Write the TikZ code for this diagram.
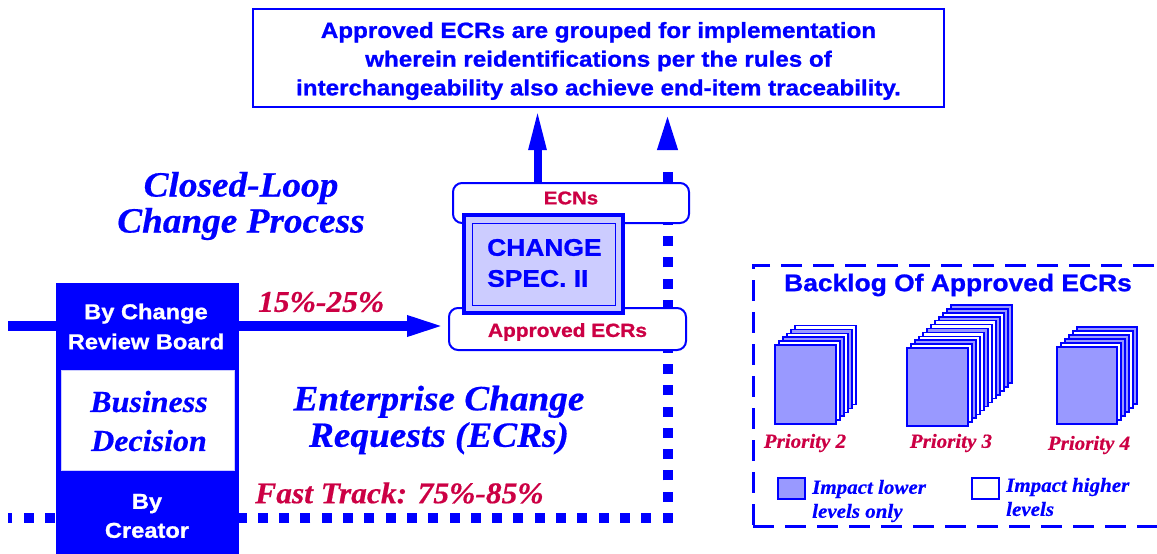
\documentclass[tikz,border=0pt]{standalone}
\usepackage{fontspec}
\setmainfont{Liberation Serif}
\newfontfamily\hvfam[FakeStretch=1.1, BoldFeatures={FakeBold=1}]{Liberation Sans}
\newfontfamily\tmfam[FakeStretch=1.05, BoldItalicFeatures={FakeBold=0.5}]{Liberation Serif}
\usetikzlibrary{arrows.meta,calc}
\definecolor{myblue}{RGB}{0,0,255}
\definecolor{crim}{RGB}{204,0,68}
\definecolor{lav}{RGB}{204,204,255}
\definecolor{pagefill}{RGB}{153,153,255}
\newcommand\sfb[2]{\hvfam\bfseries\fontsize{#1}{#2}\selectfont}
\newcommand\rmbi[2]{\tmfam\bfseries\itshape\fontsize{#1}{#2}\selectfont}
\tikzset{
  txt/.style={inner sep=0pt, align=center},
  rbox/.style={draw=myblue, line width=2pt, fill=white, rounded corners=9pt, inner sep=0pt},
  page/.style={draw=myblue, line width=1.5pt},
  bigarrow/.style={myblue, line width=#1},
  dots/.style={myblue, line width=10pt, line cap=butt, dash pattern=on 10pt off 11.3pt},
}
\begin{document}
\begin{tikzpicture}[x=1pt,y=-1pt]
\clip (0,0) rectangle (1157,554);
\fill[white] (0,0) rectangle (1157,554);

% top box
\node[draw=myblue, line width=2pt, minimum width=691pt, minimum height=98pt, inner sep=0pt] (top) at (598.5,58) {};
\node[txt, text=myblue, font=\sfb{22}{28.7}] (toptxt) at (598.5,61)
  {Approved ECRs are grouped for implementation\\wherein reidentifications per the rules of\\interchangeability also achieve end-item traceability.};

% dotted fast track path
\coordinate (corner) at (667.5,518);
\coordinate (hstart) at (672.5,518);
\coordinate (vstart) at (667.5,523);
\coordinate (leftend) at (8,518);
\coordinate (vend) at (667.5,168);
\coordinate (dhead) at (667.5,150);
\draw[dots] (hstart) -- (leftend);
\draw[dots] (vstart) -- (vend);
\draw[bigarrow=10pt, -{Triangle[length=42pt,width=17pt]}] (dhead) -- (top.south -| dhead);

% approved box and horizontal arrow 15-25%
\node[rbox, minimum width=237pt, minimum height=42pt] (appr) at (567.5,329) {};
\coordinate (hleft) at (8,326);
\draw[bigarrow=10pt, -{Triangle[length=41pt,width=18pt]}] (hleft) -- (appr.west |- hleft);

% ECNs box
\node[rbox, minimum width=236pt, minimum height=40pt] (ecn) at (571,203) {};
\node[txt, text=crim, font=\sfb{18.5}{20}] (ecntxt) at (571,198) {ECNs};
\node[txt, text=crim, font=\sfb{19}{22}] (apprtxt) at (567.5,332) {Approved ECRs};

% solid up arrow
\coordinate (sa) at (537.5,0);
\draw[bigarrow=8pt, -{Triangle[length=42pt,width=16pt]}] (ecn.north -| sa) -- (top.south -| sa);

% change spec box
\node[draw=myblue, line width=4.5pt, fill=lav, minimum width=159pt, minimum height=98pt, inner sep=0pt] (spec) at (543.5,264) {};
\node[draw=myblue, line width=1pt, minimum width=143pt, minimum height=82pt, inner sep=0pt] (specin) at (543.5,264) {};
\node[txt, align=left, anchor=west, text=myblue, font=\sfb{24}{31}] (spectxt) at (487,263) {CHANGE\\SPEC. II};

% left panel
\node[fill=myblue, minimum width=183pt, minimum height=280pt, inner sep=0pt] (panel) at (147.5,423) {};
\node[fill=white, draw=white!80!myblue, line width=1pt, minimum width=173pt, minimum height=100pt, inner sep=0pt] (bd) at (147.5,420) {};
\node[txt, text=myblue, font=\rmbi{30.5}{39}] (bdtxt) at (149,421) {Business\\Decision};
\node[txt, text=white, font=\sfb{21.5}{30}] (crb) at (146,326.5) {By Change\\Review Board};
\node[txt, text=white, font=\sfb{21.5}{29}] (creator) at (147,516) {By\\Creator};

% free texts
\node[txt, text=myblue, font=\rmbi{35.5}{36}] (clp) at (241,206) {Closed-Loop\\Change Process};
\node[txt, text=myblue, font=\rmbi{35.5}{36.5}] (ecr) at (439,420) {Enterprise Change\\Requests (ECRs)};
\node[txt, anchor=west, text=crim, font=\rmbi{30}{32}] (pct) at (258,302) {15\%-25\%};
\node[txt, anchor=west, text=crim, font=\rmbi{30}{32}] (fast) at (255,493) {Fast Track: 75\%-85\%};

% backlog frame
\node[draw=myblue, line width=3pt, dash pattern=on 21pt off 11pt, minimum width=422pt, minimum height=261pt, inner sep=0pt] (backlog) at (964,395.5) {};
\node[txt, text=myblue, font=\sfb{24}{28}] (backtitle) at (958,285) {Backlog Of Approved ECRs};

% stacks
\foreach \i/\f in {5/white,4/pagefill,3/white,2/pagefill,1/white,0/pagefill}
  \draw[page, fill=\f] (775+4*\i,345-3.9*\i) rectangle +(61,79);
\foreach \i/\f in {11/pagefill,10/pagefill,9/white,8/pagefill,7/white,6/white,5/pagefill,4/white,3/white,2/pagefill,1/white,0/pagefill}
  \draw[page, fill=\f] (907+4*\i,348-3.9*\i) rectangle +(61,78);
\foreach \i/\f in {5/pagefill,4/white,3/pagefill,2/pagefill,1/white,0/pagefill}
  \draw[page, fill=\f] (1057+4*\i,347-4*\i) rectangle +(60,77);

\node[txt, text=crim, font=\rmbi{20}{22}] (p2) at (805,443) {Priority 2};
\node[txt, text=crim, font=\rmbi{20}{22}] (p3) at (951,443) {Priority 3};
\node[txt, text=crim, font=\rmbi{20}{22}] (p4) at (1089,445) {Priority 4};

% legend
\node[page, fill=pagefill, minimum width=27pt, minimum height=21pt, inner sep=0pt] (leg1) at (791.5,488.5) {};
\node[page, fill=white, minimum width=27pt, minimum height=21pt, inner sep=0pt] (leg2) at (985.5,488.5) {};
\node[txt, align=left, anchor=west, text=myblue, font=\rmbi{20}{24}] (leg1txt) at (812,501) {Impact lower\\levels only};
\node[txt, align=left, anchor=west, text=myblue, font=\rmbi{20}{24}] (leg2txt) at (1006,497) {Impact higher\\levels};
\end{tikzpicture}
\end{document}
